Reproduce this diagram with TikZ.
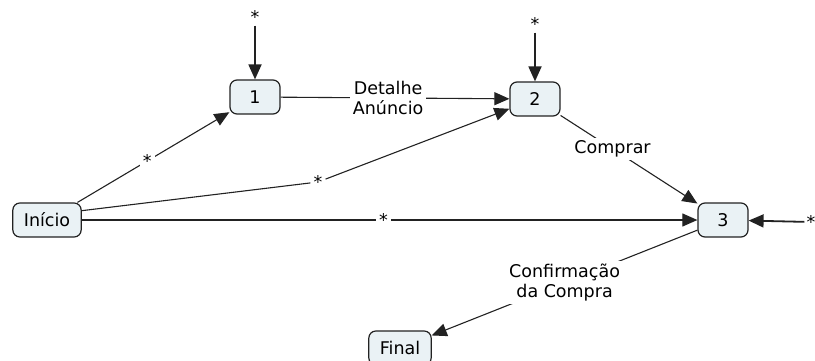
\documentclass[tikz,border=0pt]{standalone}
\usepackage{fontspec}
\setmainfont{DejaVu Sans}
\usepackage{tikz}
\usetikzlibrary{arrows.meta, positioning}
\definecolor{fundoestado}{HTML}{EAF2F5}
\definecolor{linha}{HTML}{222222}

\begin{document}
\begin{tikzpicture}[x=1pt, y=-1pt,
	estado/.style={draw=linha, line width=1.2pt, rounded corners=7pt, fill=fundoestado,
		minimum width=50pt, minimum height=34pt, inner xsep=11pt, font=\fontsize{17.5}{20}\selectfont},
	estrela/.style={inner sep=2pt, font=\fontsize{17.5}{20}\selectfont},
	rotulo/.style={fill=white, inner sep=3pt, align=center, font=\fontsize{17.5}{20}\selectfont},
	trans/.style={draw=linha, line width=1.1pt, -{Triangle[length=15pt, width=13pt]}},
	entrada/.style={trans, line width=1.8pt}]
		\useasboundingbox (0,0) rectangle (815,361);
		
		% estados
		\node[estado] (inicio) at (47,220) {Início};
		\node[estado] (n1) at (255,97) {1};
		\node[estado] (n2) at (535,99) {2};
		\node[estado] (n3) at (723,220) {3};
		\node[estado] (final) at (400,348) {Final};
		
		% entradas vindas de qualquer estado
		\node[estrela] (e1) at (255,17) {*};
		\node[estrela] (e2) at (535,24) {*};
		\node[estrela] (e3) at (811,222) {*};
		\draw[entrada] (e1) -- (n1);
		\draw[entrada] (e2) -- (n2);
		\draw[entrada] (e3) -- (n3);
		
		% transições
		\draw[trans] (inicio.30) -- node[rotulo, pos=0.46] {*} (n1);
		\node[rotulo] (r2) at (318,182) {*};
		\draw[trans] (inicio.15) -- (r2) -- (n2);
		\draw[trans] (inicio) -- node[rotulo, pos=0.49] {*} (n3);
		\draw[trans] (n1) -- node[rotulo, pos=0.47] {Detalhe\\Anúncio} (n2);
		\draw[trans] (n2) -- node[rotulo, pos=0.38] {Comprar} (n3);
		\draw[trans] (n3) -- node[rotulo, pos=0.5] {Confirmação\\da Compra} (final);
	\end{tikzpicture}
\end{document}
